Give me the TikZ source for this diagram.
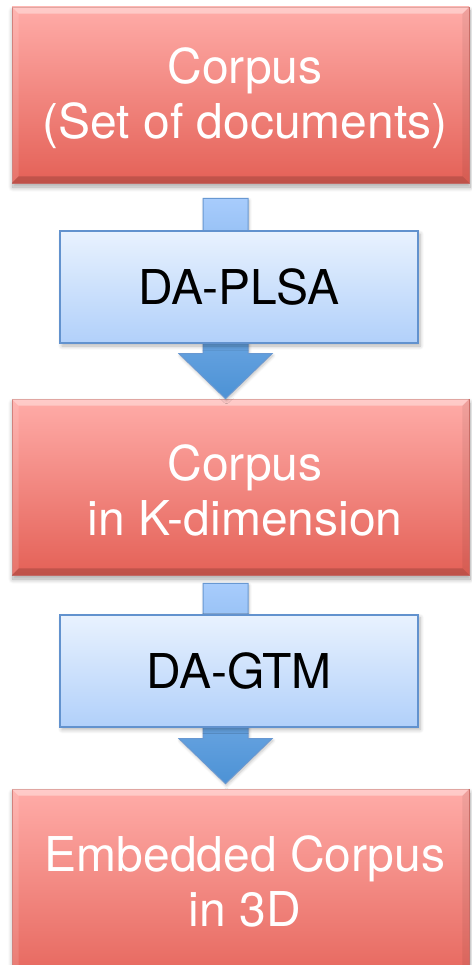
\documentclass[tikz,border=0pt]{standalone}
\usepackage{fontspec}
\setmainfont{TeX Gyre Heros}
\usetikzlibrary{calc,shadows.blur}

\definecolor{redtop}{RGB}{255,172,168}
\definecolor{redbot}{RGB}{228,97,87}
\definecolor{redline}{RGB}{205,112,106}
\definecolor{bluetop}{RGB}{233,242,254}
\definecolor{bluebot}{RGB}{177,208,250}
\definecolor{blueline}{RGB}{98,146,206}
\definecolor{arrtop}{RGB}{168,204,252}
\definecolor{arrbot}{RGB}{76,146,213}
\definecolor{arrline}{RGB}{104,152,210}

% lighter top / darker bottom strips that give the red boxes their bevel
\newcommand\bevelbox[1]{%
  \fill[white,opacity=0.38] (#1.north west) -- (#1.north east)
    -- ($(#1.north east)+(-7,7)$) -- ($(#1.north west)+(7,7)$) -- cycle;
  \fill[white,opacity=0.12] (#1.north west) -- ($(#1.north west)+(7,7)$)
    -- ($(#1.south west)+(7,-7)$) -- (#1.south west) -- cycle;
  \fill[black,opacity=0.06] (#1.north east) -- ($(#1.north east)+(-7,7)$)
    -- ($(#1.south east)+(-7,-7)$) -- (#1.south east) -- cycle;
  \fill[black,opacity=0.16] (#1.south west) -- (#1.south east)
    -- ($(#1.south east)+(-7,-7)$) -- ($(#1.south west)+(7,-7)$) -- cycle;
}

% block arrow from the stem top #1 down to the tip #2
\newcommand\blockarrow[2]{%
  \path[flowarrow] let \p1=(#1), \p2=(#2) in
    (\x2-22.5pt,\y1) -- (\x2+22.5pt,\y1) -- (\x2+22.5pt,\y2+45pt)
    -- (\x2+46.5pt,\y2+45pt) -- (\x2,\y2) -- (\x2-46.5pt,\y2+45pt)
    -- (\x2-22.5pt,\y2+45pt) -- cycle;
}

\begin{document}
\begin{tikzpicture}[x=1pt,y=-1pt,
  boxtext/.style={align=center, font=\fontsize{48}{55}\selectfont},
  redtext/.style={boxtext, text=white},
  redbox/.style={minimum width=457pt, minimum height=176pt, inner sep=0pt,
    top color=redtop, bottom color=redbot, draw=redline, line width=0.8pt,
    blur shadow={shadow xshift=1pt, shadow yshift=-4pt, shadow blur radius=5pt,
      shadow blur steps=8, shadow opacity=35}},
  bluebox/.style={minimum width=358pt, minimum height=112pt, inner sep=0pt,
    top color=bluetop, bottom color=bluebot, draw=blueline, line width=2pt,
    text=black, boxtext,
    blur shadow={shadow xshift=2pt, shadow yshift=-3pt, shadow blur radius=4pt,
      shadow blur steps=6, shadow opacity=30}},
  flowarrow/.style={top color=arrtop, bottom color=arrbot, draw=arrline,
    line width=1pt, line join=miter,
    blur shadow={shadow xshift=1pt, shadow yshift=-2pt, shadow blur radius=3pt,
      shadow blur steps=5, shadow opacity=25}}]

\useasboundingbox (0,0) rectangle (471,965);

% data stages
\node[redbox] (r1) at (240.5,95) {};
\node[redbox] (r2) at (240.5,487) {};
\node[redbox, minimum height=206pt] (r3) at (240.5,892) {};
\bevelbox{r1}
\bevelbox{r2}
\bevelbox{r3}
\node[redtext] (t1) at (245,98) {Corpus\\(Set of documents)};
\node[redtext] (t2) at (245,490) {Corpus\\in K-dimension};
\node[redtext] (t3) at (245,881) {Embedded Corpus\\in 3D};

% arrows between stages
\coordinate (a1s) at ($(r1.south)+(-15,15)$);
\coordinate (a1t) at ($(r2.north)+(-15,0)$);
\coordinate (a2s) at ($(r2.south)+(-15,8)$);
\coordinate (a2t) at ($(r3.north)+(-15,-5)$);
\blockarrow{a1s}{a1t}
\blockarrow{a2s}{a2t}

% processing steps
\node[bluebox] (b1) at (239,287) {DA-PLSA};
\node[bluebox] (b2) at (239,670.5) {DA-GTM};

\end{tikzpicture}
\end{document}
